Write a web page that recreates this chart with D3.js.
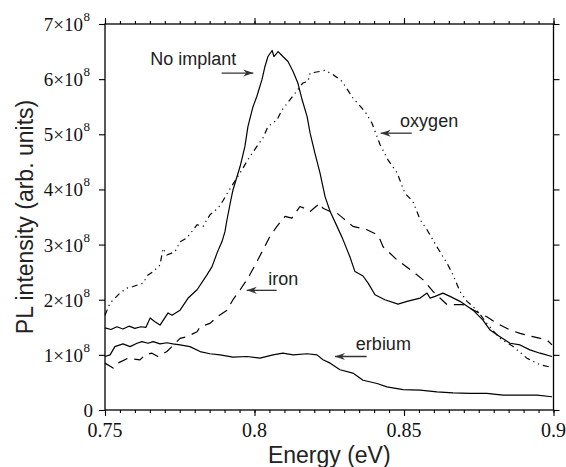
<!DOCTYPE html>
<html><head><meta charset="utf-8">
<script src="https://cdn.jsdelivr.net/npm/d3@7"></script>
<style>body{margin:0;background:#fff}svg{display:block}</style>
</head><body><svg id="c" width="566" height="467"></svg>
<script>
// ---- data (energy in eV, PL intensity in units of 1e8) ----
const noImplant = [[0.7500,1.49],[0.7520,1.46],[0.7540,1.51],[0.7560,1.47],[0.7580,1.52],[0.7600,1.48],[0.7620,1.51],[0.7637,1.50],[0.7651,1.67],[0.7667,1.60],[0.7684,1.54],[0.7711,1.76],[0.7724,1.72],[0.7751,1.81],[0.7778,2.03],[0.7808,2.18],[0.7841,2.45],[0.7858,2.60],[0.7875,2.85],[0.7891,3.05],[0.7901,3.23],[0.7908,3.45],[0.7921,3.81],[0.7928,3.99],[0.7952,4.42],[0.7968,4.78],[0.7978,5.14],[0.7995,5.50],[0.8008,5.69],[0.8025,5.99],[0.8035,6.23],[0.8045,6.41],[0.8059,6.52],[0.8065,6.41],[0.8079,6.50],[0.8095,6.41],[0.8112,6.32],[0.8129,6.14],[0.8145,5.93],[0.8159,5.63],[0.8176,5.32],[0.8186,5.02],[0.8202,4.66],[0.8219,4.30],[0.8236,3.87],[0.8253,3.60],[0.8276,3.33],[0.8296,3.09],[0.8319,2.78],[0.8336,2.51],[0.8363,2.43],[0.8380,2.30],[0.8403,2.09],[0.8436,2.00],[0.8480,1.92],[0.8510,1.97],[0.8554,2.03],[0.8577,2.12],[0.8587,2.03],[0.8604,2.06],[0.8630,2.12],[0.8654,2.06],[0.8687,1.97],[0.8731,1.81],[0.8764,1.63],[0.8788,1.45],[0.8821,1.33],[0.8855,1.21],[0.8888,1.18],[0.8921,1.09],[0.8955,1.03],[0.8995,0.97]];
const oxygen = [[0.7500,1.72],[0.7517,1.94],[0.7550,2.12],[0.7573,2.21],[0.7594,2.24],[0.7627,2.30],[0.7644,2.45],[0.7661,2.51],[0.7684,2.63],[0.7694,2.93],[0.7707,2.81],[0.7734,2.87],[0.7751,3.05],[0.7774,3.12],[0.7808,3.36],[0.7828,3.33],[0.7851,3.54],[0.7878,3.66],[0.7895,3.80],[0.7911,3.95],[0.7952,4.30],[0.7978,4.54],[0.8008,4.78],[0.8028,4.93],[0.8045,5.14],[0.8075,5.26],[0.8092,5.44],[0.8119,5.63],[0.8145,5.81],[0.8152,5.87],[0.8162,5.93],[0.8179,5.96],[0.8186,6.11],[0.8219,6.14],[0.8236,6.16],[0.8263,6.08],[0.8293,5.96],[0.8329,5.66],[0.8370,5.41],[0.8393,5.20],[0.8420,4.81],[0.8446,4.54],[0.8477,4.30],[0.8503,3.93],[0.8530,3.78],[0.8554,3.45],[0.8577,3.27],[0.8610,2.96],[0.8644,2.66],[0.8664,2.45],[0.8687,2.15],[0.8711,1.97],[0.8744,1.81],[0.8777,1.57],[0.8821,1.30],[0.8865,1.15],[0.8911,0.94],[0.8955,0.82],[0.8995,0.77]];
const iron = [[0.7500,0.85],[0.7527,0.76],[0.7543,0.85],[0.7577,0.94],[0.7617,0.91],[0.7634,1.00],[0.7657,1.03],[0.7677,0.97],[0.7707,1.06],[0.7724,1.15],[0.7751,1.30],[0.7774,1.33],[0.7808,1.42],[0.7818,1.51],[0.7851,1.57],[0.7875,1.69],[0.7908,1.81],[0.7928,2.00],[0.7952,2.18],[0.7978,2.39],[0.8008,2.69],[0.8028,2.90],[0.8052,3.15],[0.8075,3.33],[0.8102,3.51],[0.8125,3.48],[0.8152,3.69],[0.8176,3.64],[0.8186,3.60],[0.8219,3.75],[0.8229,3.66],[0.8253,3.60],[0.8276,3.57],[0.8296,3.48],[0.8329,3.33],[0.8376,3.27],[0.8410,3.18],[0.8420,3.09],[0.8430,2.96],[0.8477,2.72],[0.8530,2.51],[0.8564,2.36],[0.8597,2.15],[0.8644,1.91],[0.8697,1.91],[0.8744,1.78],[0.8777,1.69],[0.8811,1.57],[0.8855,1.45],[0.8888,1.39],[0.8931,1.33],[0.8978,1.27],[0.8995,1.18]];
const erbium = [[0.7500,0.97],[0.7517,1.00],[0.7533,1.15],[0.7560,1.20],[0.7584,1.15],[0.7607,1.21],[0.7624,1.24],[0.7644,1.21],[0.7661,1.24],[0.7684,1.20],[0.7707,1.22],[0.7727,1.20],[0.7751,1.18],[0.7784,1.15],[0.7818,1.06],[0.7851,1.02],[0.7885,1.00],[0.7928,0.96],[0.7975,0.97],[0.8018,0.94],[0.8062,1.00],[0.8095,1.03],[0.8129,1.00],[0.8176,1.02],[0.8209,1.00],[0.8229,0.91],[0.8253,0.85],[0.8286,0.73],[0.8329,0.67],[0.8363,0.54],[0.8410,0.48],[0.8443,0.42],[0.8497,0.37],[0.8554,0.36],[0.8610,0.33],[0.8664,0.31],[0.8721,0.30],[0.8777,0.30],[0.8831,0.27],[0.8888,0.27],[0.8945,0.27],[0.8995,0.24]];

const xMajorTicks = [0.75, 0.8, 0.85, 0.9];
const xTickLabels = ["0.75", "0.8", "0.85", "0.9"];
const yMajorTicks = [0, 1, 2, 3, 4, 5, 6, 7];
const yTickMantissa = ["0", "1", "2", "3", "4", "5", "6", "7"];
const yTickExponent = "8";
const xTitle = "Energy (eV)";
const yTitle = "PL intensity (arb. units)";

// annotations: label, text anchor point (E, v), arrow from (E,v) to (E,v)
const annotations = [
  {text: "No implant", tx: 0.7651, ty: 6.26, ax1: 0.7890, ax2: 0.7996, ay: 6.11},
  {text: "oxygen",     tx: 0.8487, ty: 5.14, ax1: 0.8526, ax2: 0.8422, ay: 5.02},
  {text: "iron",       tx: 0.8046, ty: 2.27, ax1: 0.8074, ax2: 0.7974, ay: 2.17},
  {text: "erbium",     tx: 0.8339, ty: 1.09, ax1: 0.8375, ax2: 0.8269, ay: 0.97}
];

// ---- layout ----
const L = 105, R = 553.5, T = 24, B = 410;
const svg = d3.select("#c");
const x = d3.scaleLinear().domain([0.75, 0.9]).range([L, R]);
const y = d3.scaleLinear().domain([0, 7]).range([B, T]);

const minorX = d3.range(0, 31).map(i => 0.75 + i * 0.005);
const serif = "'Liberation Serif','Times New Roman',serif";
const sans = "'Liberation Sans',Arial,Helvetica,sans-serif";

function styleAxis(g) {
  g.select(".domain").remove();
  g.selectAll(".tick line").attr("stroke", "#000").attr("stroke-width", 1.1);
  g.selectAll(".tick text").remove();
}
// minor ticks
svg.append("g").attr("transform", `translate(0,${B})`)
  .call(d3.axisBottom(x).tickValues(minorX).tickSize(3).tickSizeOuter(0)).call(styleAxis);
svg.append("g").attr("transform", `translate(0,${T})`)
  .call(d3.axisTop(x).tickValues(minorX).tickSize(3).tickSizeOuter(0)).call(styleAxis);
// major ticks
svg.append("g").attr("transform", `translate(0,${B})`)
  .call(d3.axisBottom(x).tickValues(xMajorTicks).tickSize(6).tickSizeOuter(0)).call(styleAxis);
svg.append("g").attr("transform", `translate(0,${T})`)
  .call(d3.axisTop(x).tickValues(xMajorTicks).tickSize(6).tickSizeOuter(0)).call(styleAxis);
svg.append("g").attr("transform", `translate(${L},0)`)
  .call(d3.axisLeft(y).tickValues(yMajorTicks).tickSize(6).tickSizeOuter(0)).call(styleAxis);
svg.append("g").attr("transform", `translate(${R},0)`)
  .call(d3.axisRight(y).tickValues(yMajorTicks).tickSize(6).tickSizeOuter(0)).call(styleAxis);

// frame
svg.append("rect").attr("x", L).attr("y", T).attr("width", R - L).attr("height", B - T)
  .attr("fill", "none").attr("stroke", "#000").attr("stroke-width", 1.3);

// x tick labels
svg.append("g").selectAll("text").data(xMajorTicks).join("text")
  .attr("x", d => x(d)).attr("y", B + 27)
  .attr("text-anchor", "middle").attr("font-family", serif).attr("font-size", 20)
  .attr("fill", "#111").text((d, i) => xTickLabels[i]);

// y tick labels
const yl = svg.append("g").selectAll("text").data(yMajorTicks).join("text")
  .attr("y", d => y(d) + 7)
  .attr("text-anchor", "end").attr("font-family", serif).attr("font-size", 19)
  .attr("fill", "#111");
yl.each(function(d, i) {
  const t = d3.select(this);
  if (d === 0) {
    t.attr("x", L - 12).text(yTickMantissa[i]);
  } else {
    t.attr("x", L - 15);
    t.append("tspan").text(yTickMantissa[i] + "\u00d710");
    t.append("tspan").attr("dy", -10).attr("dx", 0.5).attr("font-size", 13).text(yTickExponent);
  }
});

// axis titles
svg.append("text").attr("x", (L + R) / 2).attr("y", 463)
  .attr("text-anchor", "middle").attr("font-family", sans).attr("font-size", 23)
  .attr("fill", "#222").text(xTitle);
svg.append("text").attr("transform", `translate(33,${(T + B) / 2}) rotate(-90)`)
  .attr("text-anchor", "middle").attr("font-family", sans).attr("font-size", 23)
  .attr("fill", "#222").text(yTitle);

// curves
const line = d3.line().x(d => x(d[0])).y(d => y(d[1]));
const series = [
  {data: noImplant, dash: null},
  {data: oxygen, dash: "6,4,1.2,4,1.2,4"},
  {data: iron, dash: "10,7"},
  {data: erbium, dash: null}
];
svg.append("g").selectAll("path").data(series).join("path")
  .attr("d", d => line(d.data)).attr("fill", "none").attr("stroke", "#000")
  .attr("stroke-width", 1.2).attr("stroke-linejoin", "round")
  .attr("stroke-dasharray", d => d.dash);

// annotations
const ann = svg.append("g");
ann.selectAll("text").data(annotations).join("text")
  .attr("x", d => x(d.tx)).attr("y", d => y(d.ty))
  .attr("font-family", sans).attr("font-size", 18).attr("fill", "#222").text(d => d.text);
ann.selectAll("line").data(annotations).join("line")
  .attr("x1", d => x(d.ax1)).attr("x2", d => x(d.ax2))
  .attr("y1", d => y(d.ay)).attr("y2", d => y(d.ay))
  .attr("stroke", "#333").attr("stroke-width", 1.3);
ann.selectAll("path").data(annotations).join("path")
  .attr("d", d => {
    const tipX = x(d.ax2), yy = y(d.ay);
    const dir = Math.sign(x(d.ax2) - x(d.ax1));
    const back = tipX - dir * 10, notch = tipX - dir * 7;
    return `M${tipX},${yy}L${back},${yy - 3.5}L${notch},${yy}L${back},${yy + 3.5}Z`;
  })
  .attr("fill", "#333");
</script></body></html>
